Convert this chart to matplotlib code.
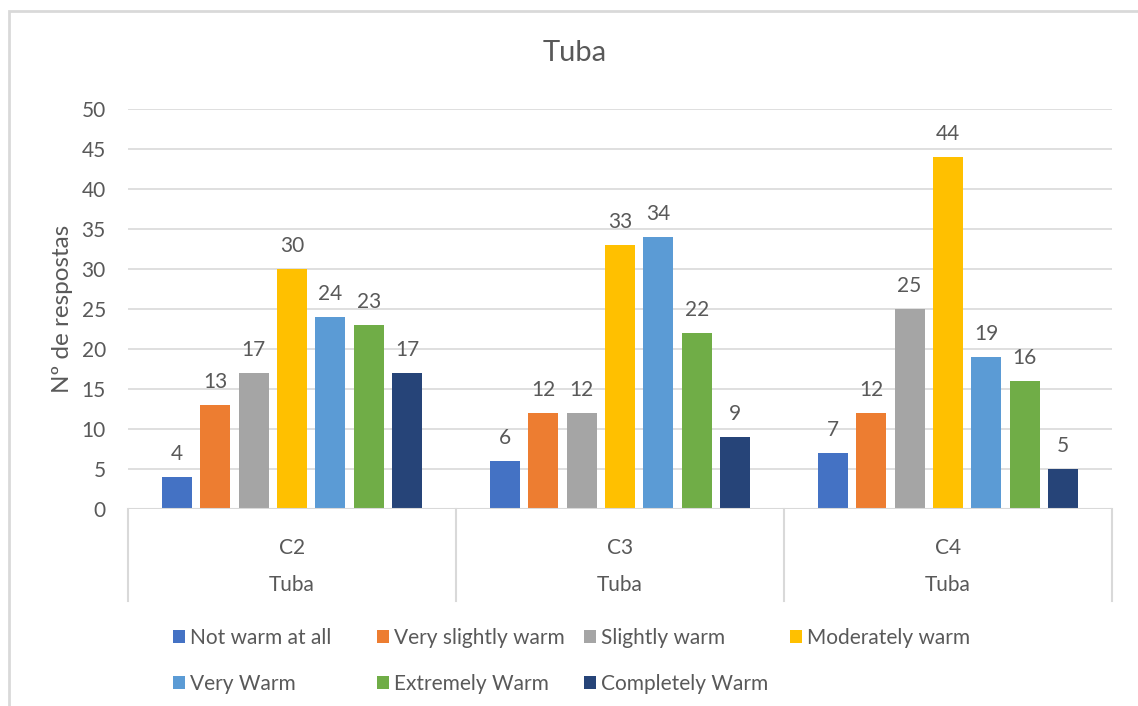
import matplotlib
matplotlib.use("Agg")
from matplotlib import pyplot as plt
from matplotlib.patches import Rectangle
import numpy as np

plt.rcParams['font.family'] = ['Lato', 'DejaVu Sans']

groups = ['C2', 'C3', 'C4']
group_sub = ['Tuba', 'Tuba', 'Tuba']
series = ['Not warm at all', 'Very slightly warm', 'Slightly warm', 'Moderately warm',
          'Very Warm', 'Extremely Warm', 'Completely Warm']
colors = ['#4472c4', '#ed7d31', '#a5a5a5', '#ffc000', '#5b9bd5', '#70ad47', '#264478']
values = [
    [4, 6, 7],
    [13, 12, 12],
    [17, 12, 25],
    [30, 33, 44],
    [24, 34, 19],
    [23, 22, 16],
    [17, 9, 5],
]

txt = '#595959'
grid = '#d9d9d9'
fs = 15

fig = plt.figure(figsize=(11.38, 7.06), dpi=100)
# outer chart border (only top/left visible in the picture)
fig.patches.append(Rectangle((9/1138, -0.05), 1.2, 1 - 11/706 + 0.05, transform=fig.transFigure,
                             fill=False, edgecolor='#d9d9d9', linewidth=2, zorder=0))

ax = fig.add_axes([128/1138, 1 - 509/706, (1112 - 128)/1138, 400/706])
x = np.arange(len(groups))
step = 0.117
w = 0.0915
for i, (name, vals) in enumerate(zip(series, values)):
    pos = x + (i - 3) * step
    bars = ax.bar(pos, vals, w, color=colors[i], label=name, zorder=3)
    for b, v in zip(bars, vals):
        ax.text(b.get_x() + b.get_width()/2, v + 1.6, str(v), ha='center', va='bottom',
                fontsize=fs, color=txt)

ax.set_xlim(-0.5, 2.5)
ax.set_ylim(0, 50)
ax.set_yticks(range(0, 51, 5))
ax.tick_params(axis='y', length=0, labelsize=fs, labelcolor=txt, pad=16)
ax.set_xticks([])
ax.grid(axis='y', color=grid, linewidth=1.2, zorder=0)
for s in ax.spines.values():
    s.set_visible(False)
ax.axhline(0, color=grid, linewidth=1.5, zorder=4)

# two-level category axis
for xs in [-0.5, 0.5, 1.5, 2.5]:
    ax.plot([xs, xs], [0, -92/8], color=grid, linewidth=1.5, clip_on=False)
for i, (g, s) in enumerate(zip(groups, group_sub)):
    ax.text(i, -39/8, g, ha='center', va='center', fontsize=fs, color=txt)
    ax.text(i, -76/8, s, ha='center', va='center', fontsize=fs, color=txt)

ax.set_ylabel('Nº de respostas', fontsize=17.5, color=txt, labelpad=6)
fig.text(575/1138, 1 - 53/706, 'Tuba', ha='center', va='center', fontsize=21, color=txt)

# legend, one column at a time (Excel spacing is uneven)
h, l = ax.get_legend_handles_labels()
cols = [[0, 4], [1, 5], [2, 6], [3]]
col_x = [169, 373, 580, 786]
for idx, cx in zip(cols, col_x):
    fig.legend([h[k] for k in idx], [l[k] for k in idx], ncol=1, frameon=False,
               loc='upper left', bbox_to_anchor=(cx/1138, 1 - 624/706), fontsize=fs,
               labelcolor=txt, handlelength=0.58, handleheight=0.58, handletextpad=0.25,
               labelspacing=1.25, borderpad=0.2, borderaxespad=0)

plt.savefig('out.png', dpi=100)
